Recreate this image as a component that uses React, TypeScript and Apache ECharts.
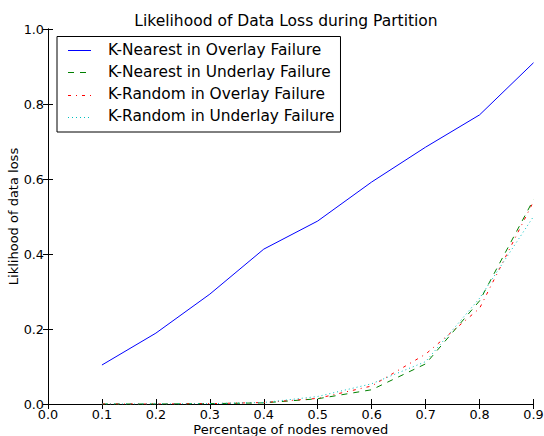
import React, { useEffect, useRef } from "react";
import * as echarts from "echarts";

const xValues = [0.1, 0.2, 0.3, 0.4, 0.5, 0.6, 0.7, 0.8, 0.9];
const nearestOverlay = [0.104, 0.189, 0.293, 0.413, 0.488, 0.592, 0.685, 0.771, 0.91];
const nearestUnderlay = [0.0, 0.0, 0.001, 0.003, 0.014, 0.038, 0.107, 0.275, 0.545];
const randomOverlay = [0.0, 0.0, 0.001, 0.004, 0.015, 0.048, 0.133, 0.255, 0.54];
const randomUnderlay = [0.0, 0.0, 0.001, 0.004, 0.02, 0.054, 0.113, 0.282, 0.5];
const seriesNames = [
  "K-Nearest in Overlay Failure",
  "K-Nearest in Underlay Failure",
  "K-Random in Overlay Failure",
  "K-Random in Underlay Failure",
];
const seriesColors = ["#0000ff", "#008000", "#ff0000", "#00bfbf"];
const seriesDashes: any[] = ["solid", [6, 6], [3, 5, 1, 5], [1, 3]];

const FONT = "DejaVu Sans";
const TICK_FS = 12.8;
const BIG_FS = 15.4;

export default function App() {
  const ref = useRef<HTMLDivElement>(null);
  useEffect(() => {
    if (!ref.current) return;
    const chart = echarts.init(ref.current, null, { renderer: "svg" });
    const pair = (ys: number[]) => xValues.map((x, i) => [x, ys[i]]);
    const axisLine = { show: true, lineStyle: { color: "#000", width: 1 } };
    const tick = { show: true, inside: true, length: 5, lineStyle: { color: "#000" } };
    const label = { color: "#000", fontFamily: FONT, fontSize: TICK_FS, formatter: (v: number) => v.toFixed(1) };
    const values = [nearestOverlay, nearestUnderlay, randomOverlay, randomUnderlay];
    const series = seriesNames.map((name, i) => ({
      name,
      type: "line",
      data: pair(values[i]),
      symbol: "none",
      lineStyle: { color: seriesColors[i], width: 1, type: seriesDashes[i] },
      itemStyle: { color: seriesColors[i] },
      xAxisIndex: 0,
      yAxisIndex: 0,
    }));
    // legend sample lines (legend icons made invisible; samples drawn on top)
    const legendTop = 36.5;
    const firstCenter = legendTop + 13.5;
    const step = 22.4;
    const legendSamples = seriesNames.map((_, i) => {
      const y = Math.round(firstCenter + i * step) + 0.5;
      return {
        type: "line",
        z: 100,
        shape: { x1: 68, y1: y, x2: 91, y2: y },
        style: {
          stroke: seriesColors[i],
          lineWidth: 1,
          lineDash: Array.isArray(seriesDashes[i]) ? seriesDashes[i] : null,
        },
        silent: true,
      };
    });
    chart.setOption({
      animation: false,
      backgroundColor: "#fff",
      title: {
        text: "Likelihood of Data Loss during Partition",
        left: 281,
        textAlign: "center",
        top: 8,
        textStyle: { fontFamily: FONT, fontSize: 15.5, fontWeight: "normal", color: "#000" },
      },
      grid: { left: 48, right: 10.5, top: 29, bottom: 32, containLabel: false, outerBoundsMode: "none" },
      legend: {
        orient: "vertical",
        left: 57,
        top: legendTop,
        icon: "rect",
        itemWidth: 23,
        itemHeight: 10,
        itemGap: 7,
        padding: [5.5, 6, 9, 11],
        borderColor: "#000",
        borderWidth: 1,
        borderRadius: 0,
        backgroundColor: "#fff",
        itemStyle: { opacity: 0 },
        textStyle: { fontFamily: FONT, fontSize: BIG_FS, color: "#000", padding: [0, 0, 0, 12] },
        data: seriesNames,
      },
      graphic: legendSamples,
      xAxis: [
        {
          type: "value",
          min: 0,
          max: 0.9,
          interval: 0.1,
          position: "bottom",
          axisLine,
          axisTick: tick,
          axisLabel: { ...label, margin: 4 },
          splitLine: { show: false },
          name: "Percentage of nodes removed",
          nameLocation: "middle",
          nameGap: 19,
          nameMoveOverlap: false,
          nameTextStyle: { fontFamily: FONT, fontSize: 13, color: "#000" },
        },
        {
          type: "value",
          min: 0,
          max: 0.9,
          interval: 0.1,
          position: "top",
          axisLine,
          axisTick: tick,
          axisLabel: { show: false },
          splitLine: { show: false },
        },
      ],
      yAxis: [
        {
          type: "value",
          min: 0,
          max: 1,
          interval: 0.2,
          position: "left",
          axisLine,
          axisTick: tick,
          axisLabel: { ...label, margin: 4 },
          splitLine: { show: false },
          name: "Liklihood of data loss",
          nameLocation: "middle",
          nameGap: 28,
          nameMoveOverlap: false,
          nameTextStyle: { fontFamily: FONT, fontSize: 13, color: "#000" },
        },
        {
          type: "value",
          min: 0,
          max: 1,
          interval: 0.2,
          position: "right",
          axisLine,
          axisTick: tick,
          axisLabel: { show: false },
          splitLine: { show: false },
        },
      ],
      series,
    });
    return () => chart.dispose();
  }, []);
  return <div ref={ref} style={{ width: 544, height: 436, position: "absolute", left: 0, top: 0 }} />;
}
